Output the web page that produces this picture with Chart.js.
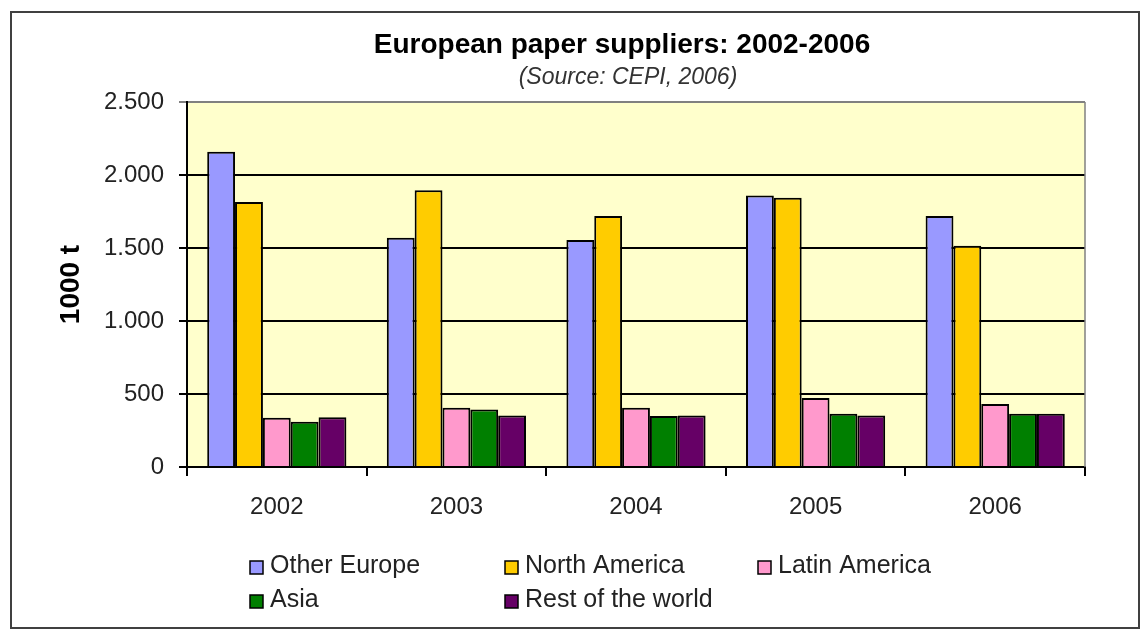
<!DOCTYPE html>
<html lang="en">
<head>
<meta charset="UTF-8">
<title>European paper suppliers: 2002-2006</title>
<script src="https://cdn.jsdelivr.net/npm/chart.js"></script>
<style>
  body { margin: 0; background: #fff; }
</style>
</head>
<body>
<canvas id="paperChart" width="1144" height="635"></canvas>
<script>
// values in 1000 t
const years = ['2002', '2003', '2004', '2005', '2006'];
const otherEurope = [2160, 1570, 1555, 1860, 1720];
const northAmerica = [1815, 1895, 1720, 1845, 1515];
const latinAmerica = [337, 405, 405, 473, 432];
const asia = [310, 393, 350, 364, 364];
const restOfWorld = [341, 352, 352, 352, 364];
const yTickLabels = ['0', '500', '1.000', '1.500', '2.000', '2.500'];

const FONT = 'Arial, "Liberation Sans", sans-serif';
Chart.defaults.font.family = FONT;
Chart.defaults.color = '#000';

// background, frame, titles and a grid-style legend
const decor = {
    id: 'decor',
    beforeDraw(chart) {
        const c = chart.ctx, a = chart.chartArea;
        c.save();
        c.fillStyle = '#fff';
        c.fillRect(0, 0, chart.width, chart.height);
        c.fillStyle = '#FFFFCC';
        c.fillRect(a.left, a.top, a.right - a.left, a.bottom - a.top);
        c.restore();
    },
    afterDraw(chart) {
        const c = chart.ctx, a = chart.chartArea;
        c.save();
        // plot right edge
        c.strokeStyle = '#808080';
        c.lineWidth = 1.5;
        c.beginPath();
        c.moveTo(a.right, a.top);
        c.lineTo(a.right, a.bottom);
        c.stroke();
        // outer frame
        c.strokeStyle = '#404040';
        c.lineWidth = 2;
        c.strokeRect(11, 12, 1128, 616);
        // titles
        c.fillStyle = '#000';
        c.textAlign = 'center';
        c.textBaseline = 'middle';
        c.font = 'bold 28px ' + FONT;
        c.fillText('European paper suppliers: 2002-2006', 622, 45);
        c.fillStyle = '#333';
        c.font = 'italic 23px ' + FONT;
        c.fillText('(Source: CEPI, 2006)', 628, 78);
        // legend
        const cols = [250, 505, 758];
        const rows = [566, 600];
        c.font = '25px ' + FONT;
        c.textAlign = 'left';
        chart.data.datasets.forEach((ds, i) => {
            const x = cols[i % 3], y = rows[Math.floor(i / 3)];
            c.fillStyle = ds.backgroundColor;
            c.fillRect(x, y - 5, 13, 13);
            c.strokeStyle = '#000';
            c.lineWidth = 1.5;
            c.strokeRect(x, y - 5, 13, 13);
            c.fillStyle = '#222';
            c.fillText(ds.label, x + 20, y);
        });
        c.restore();
    }
};

new Chart(document.getElementById('paperChart'), {
    type: 'bar',
    data: {
        labels: years,
        datasets: [
            { label: 'Other Europe', data: otherEurope, backgroundColor: '#9999FF' },
            { label: 'North America', data: northAmerica, backgroundColor: '#FFCC00' },
            { label: 'Latin America', data: latinAmerica, backgroundColor: '#FF99CC' },
            { label: 'Asia', data: asia, backgroundColor: '#007F00' },
            { label: 'Rest of the world', data: restOfWorld, backgroundColor: '#660066' }
        ]
    },
    options: {
        responsive: false,
        animation: false,
        datasets: {
            bar: { borderColor: '#000', borderWidth: 2, barPercentage: 1, categoryPercentage: 0.775 }
        },
        layout: { padding: { left: 12, top: 102, right: 59, bottom: 108 } },
        plugins: {
            legend: { display: false },
            tooltip: { enabled: false }
        },
        scales: {
            x: {
                grid: { offset: true, drawOnChartArea: false, color: '#000', lineWidth: 2, tickLength: 9 },
                border: { color: '#000', width: 2 },
                ticks: { font: { size: 24 }, color: '#222', padding: 17 },
                afterFit: s => { s.height = 60; }
            },
            y: {
                min: 0,
                max: 2500,
                ticks: {
                    stepSize: 500,
                    font: { size: 24 },
                    color: '#222',
                    padding: 15,
                    callback: (v, i) => yTickLabels[i]
                },
                grid: {
                    color: ctx => ctx.tick && ctx.tick.value === 2500 ? '#808080' : '#000',
                    lineWidth: 2,
                    tickLength: 8
                },
                border: { color: '#000', width: 2 },
                title: {
                    display: true,
                    text: '1000 t',
                    font: { size: 28, weight: 'bold' },
                    padding: { top: 42, bottom: 0 }
                },
                afterFit: s => { s.width = 175; }
            }
        }
    },
    plugins: [decor]
});
</script>
</body>
</html>
